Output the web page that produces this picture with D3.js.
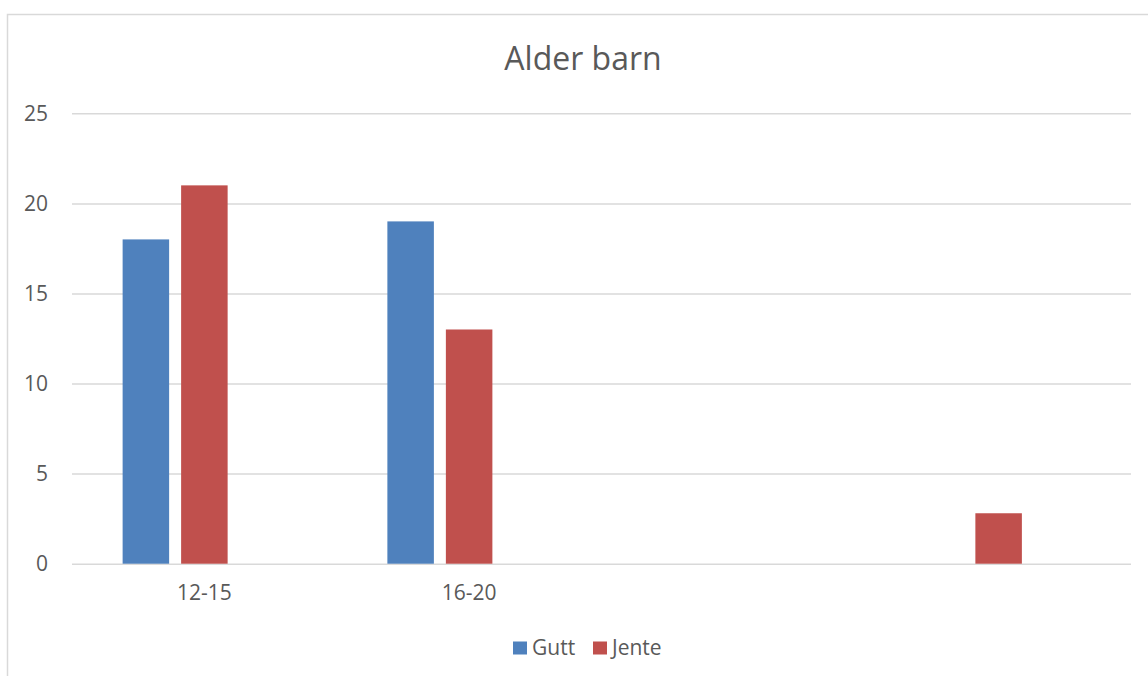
<!DOCTYPE html>
<html>
<head>
<meta charset="utf-8">
<script src="https://cdn.jsdelivr.net/npm/d3@7"></script>
<style>
  html, body { margin: 0; padding: 0; background: #fff; }
  svg { display: block; }
  text { font-family: "Open Sans", "Noto Sans", sans-serif; fill: #595959; }
</style>
</head>
<body>
<svg id="chart" width="1148" height="676"></svg>
<script>
// Age groups (the last two categories carry no label)
const categories = ["12-15", "16-20", "", " "];
// Series names; the third series holds no values and is left out of the legend
const seriesNames = ["Gutt", "Jente", "Serie3"];
const legendNames = ["Gutt", "Jente"];
const guttValues = [18, 19, null, null];
const jenteValues = [21, 13, null, 2.8];
const serie3Values = [null, null, null, null];
const yTicks = [0, 5, 10, 15, 20, 25];
const colors = ["#4F81BD", "#C0504D", "#9BBB59"];

const seriesValues = [guttValues, jenteValues, serie3Values];

const svg = d3.select("#chart");
const plot = { left: 72, right: 1131, top: 113.3, bottom: 563.7 };

// Chart frame
svg.append("rect")
  .attr("x", 7.5).attr("y", 14.5)
  .attr("width", 1160).attr("height", 700)
  .attr("fill", "#fff").attr("stroke", "#d9d9d9").attr("stroke-width", 1.5);

const x0 = d3.scaleBand().domain(categories).range([plot.left, plot.right]).padding(0);
const clusterW = 163.5;
const x1 = d3.scaleBand().domain(seriesNames).range([0, clusterW]).paddingInner(0.205).paddingOuter(0);
const y = d3.scaleLinear().domain([0, 25]).range([plot.bottom, plot.top]);

// Gridlines and value labels
const yAxis = d3.axisLeft(y).tickValues(yTicks).tickSize(-(plot.right - plot.left)).tickPadding(24);
const gy = svg.append("g").attr("transform", `translate(${plot.left},0)`).call(yAxis);
gy.select(".domain").remove();
gy.selectAll(".tick line").attr("stroke", "#d9d9d9").attr("stroke-width", 1.5);
gy.attr("font-size", 21).attr("font-family", null);
gy.selectAll(".tick text").attr("fill", "#595959");

// Bars
seriesNames.forEach((name, si) => {
  const data = categories.map((c, i) => ({ c, v: seriesValues[si][i] })).filter(d => d.v != null);
  svg.append("g").selectAll("rect").data(data).join("rect")
    .attr("x", d => x0(d.c) + x0.bandwidth() / 2 - clusterW / 2 + x1(name))
    .attr("y", d => y(d.v))
    .attr("width", x1.bandwidth())
    .attr("height", d => y(0) - y(d.v))
    .attr("fill", colors[si]);
});

// Category labels
const xAxis = d3.axisBottom(x0).tickSize(0).tickPadding(21);
const gx = svg.append("g").attr("transform", `translate(0,${plot.bottom})`).call(xAxis);
gx.select(".domain").remove();
gx.attr("font-size", 21).attr("font-family", null);
gx.selectAll(".tick text").attr("fill", "#595959");

// Title
svg.append("text")
  .attr("x", 583).attr("y", 70)
  .attr("text-anchor", "middle")
  .attr("font-size", 32)
  .text("Alder barn");

// Legend
const legendX = d3.scalePoint().domain(legendNames).range([513, 593]);
const lg = svg.append("g").selectAll("g").data(legendNames).join("g")
  .attr("transform", d => `translate(${legendX(d)},641.5)`);
lg.append("rect").attr("width", 14).attr("height", 13).attr("fill", (d, i) => colors[i]);
lg.append("text").attr("x", 19).attr("y", 13.5).attr("font-size", 21).text(d => d);
</script>
</body>
</html>
